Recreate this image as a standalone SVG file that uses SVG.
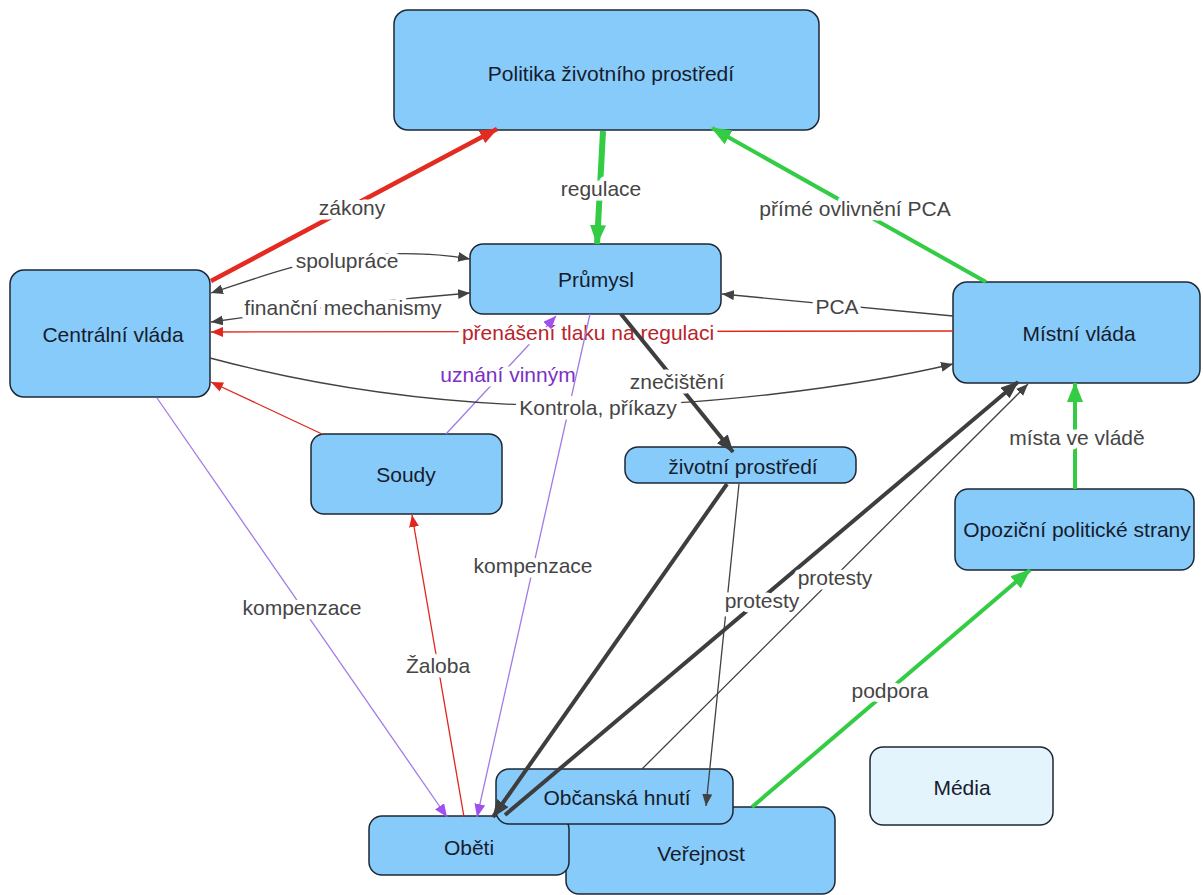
<svg xmlns="http://www.w3.org/2000/svg" width="1203" height="895" viewBox="0 0 1203 895">
<style>
.node rect{fill:#87cbfa;stroke:#1e2735;stroke-width:1.5}
.node.light rect{fill:#e4f4fd}
.node text{font-family:"Liberation Sans",Arial,sans-serif;font-size:21px;fill:#161c2c;text-anchor:middle;dominant-baseline:central}
.c{fill:none}
.lbl{font-family:"Liberation Sans",Arial,sans-serif;font-size:21px;fill:#454545;text-anchor:middle;dominant-baseline:central;stroke:#fff;stroke-width:9;stroke-linejoin:round;paint-order:stroke}
.dk{stroke:#424242;stroke-width:1.3}
.dkT{stroke:#3e3e3e;stroke-width:4}
.rd{stroke:#e0261d;stroke-width:1.3}
.rdT{stroke:#e32b22;stroke-width:4.5}
.gr{stroke:#33cc44;stroke-width:4}
.grT{stroke:#33cc44;stroke-width:6}
.pu{stroke:#a27ae6;stroke-width:1.3}
</style>
<defs>
<marker id="aDk" markerUnits="userSpaceOnUse" markerWidth="12" markerHeight="10" refX="12" refY="5" orient="auto-start-reverse"><path d="M0,0 L12,5 L0,10 z" fill="#424242"/></marker>
<marker id="aDkB" markerUnits="userSpaceOnUse" markerWidth="18" markerHeight="14" refX="17" refY="7" orient="auto"><path d="M0,0 L18,7 L0,14 z" fill="#3e3e3e"/></marker>
<marker id="aRd" markerUnits="userSpaceOnUse" markerWidth="12" markerHeight="10" refX="12" refY="5" orient="auto"><path d="M0,0 L12,5 L0,10 z" fill="#e0261d"/></marker>
<marker id="aRdB" markerUnits="userSpaceOnUse" markerWidth="18" markerHeight="14" refX="17" refY="7" orient="auto"><path d="M0,0 L18,7 L0,14 z" fill="#e32b22"/></marker>
<marker id="aGr" markerUnits="userSpaceOnUse" markerWidth="20" markerHeight="16" refX="19" refY="8" orient="auto"><path d="M0,0 L20,8 L0,16 z" fill="#33cc44"/></marker>
<marker id="aPu" markerUnits="userSpaceOnUse" markerWidth="13" markerHeight="11" refX="13" refY="5.5" orient="auto"><path d="M0,0 L13,5.5 L0,11 z" fill="#a24ff0"/></marker>
</defs>

<g id="nodes-under">
<g id="n-politika" class="node"><rect x="394" y="10" width="425" height="120" rx="14"/><text x="611" y="73">Politika životního prostředí</text></g>
<g id="n-prumysl" class="node"><rect x="470" y="244" width="251" height="70" rx="13"/><text x="596" y="279">Průmysl</text></g>
<g id="n-centralni" class="node"><rect x="10" y="270" width="200" height="127" rx="14"/><text x="113" y="334">Centrální vláda</text></g>
<g id="n-mistni" class="node"><rect x="953" y="282" width="247" height="101" rx="14"/><text x="1079" y="333">Místní vláda</text></g>
<g id="n-zivotni" class="node"><rect x="625" y="447" width="231" height="36" rx="13"/><text x="743" y="466">životní prostředí</text></g>
<g id="n-soudy" class="node"><rect x="311" y="434" width="191" height="80" rx="13"/><text x="406" y="474">Soudy</text></g>
<g id="n-opozicni" class="node"><rect x="955" y="489" width="239" height="81" rx="13"/><text x="1077" y="529">Opoziční politické strany</text></g>
<g id="n-media" class="node light"><rect x="870" y="747" width="183" height="78" rx="13"/><text x="962" y="787">Média</text></g>
<g id="n-verejnost" class="node"><rect x="566" y="807" width="269" height="87" rx="13"/><text x="701" y="853">Veřejnost</text></g>
<g id="n-obeti" class="node"><rect x="369" y="816" width="200" height="59" rx="13"/><text x="469" y="847">Oběti</text></g>
<g id="n-obcanska" class="node"><rect x="496" y="769" width="237" height="55" rx="13"/><text x="617" y="797">Občanská hnutí</text></g>
</g>

<g id="connectors">
<path class="c pu" d="M446,434 L550,322"/>
<path class="c rd" d="M953,331 L211,332" marker-end="url(#aRd)"/>
<text class="lbl" x="588" y="332" style="fill:#b8242a">přenášení tlaku na regulaci</text>
<path class="c pu" d="M546,327 L556,316" marker-end="url(#aPu)"/>
<text class="lbl" x="508" y="374" style="fill:#7b2fc4">uznání vinným</text>
<path class="c pu" d="M590,314 L477,817" marker-end="url(#aPu)"/>
<text class="lbl" x="533" y="565">kompenzace</text>
<path class="c dk" d="M210,358 C330,390 450,404 560,406 C700,408 860,386 953,364" marker-end="url(#aDk)"/>
<rect x="516" y="396" width="164" height="22" fill="#fff"/>
<text class="lbl" x="598" y="407">Kontrola, příkazy</text>
<path class="c dkT" d="M621,314 L733,452" marker-end="url(#aDkB)"/>
<text class="lbl" x="677" y="381">znečištění</text>

<path class="c rdT" d="M211,281 L497,129" marker-end="url(#aRdB)"/>
<text class="lbl" x="352" y="207">zákony</text>
<path class="c grT" d="M603,131 L597,244" marker-end="url(#aGr)"/>
<text class="lbl" x="601" y="188">regulace</text>
<path class="c gr" d="M986,282 L712,128" marker-end="url(#aGr)"/>
<text class="lbl" x="855" y="208">přímé ovlivnění PCA</text>

<path class="c dk" d="M211,293 C260,277 300,262 345,257 C390,252 430,252 470,259" marker-start="url(#aDk)" marker-end="url(#aDk)"/>
<text class="lbl" x="347" y="260">spolupráce</text>
<path class="c dk" d="M211,322 Q340,304 470,293" marker-start="url(#aDk)" marker-end="url(#aDk)"/>
<text class="lbl" x="343" y="307">finanční mechanismy</text>
<path class="c dk" d="M953,316 L722,294" marker-end="url(#aDk)"/>
<text class="lbl" x="837" y="306">PCA</text>

<path class="c rd" d="M322,434 L211,382" marker-end="url(#aRd)"/>
<path class="c rd" d="M464,817 L412,515" marker-end="url(#aRd)"/>
<text class="lbl" x="438" y="665">Žaloba</text>
<path class="c pu" d="M157,398 L447,817" marker-end="url(#aPu)"/>
<text class="lbl" x="302" y="607">kompenzace</text>

<path class="c dkT" d="M727,484 L493,817" marker-end="url(#aDkB)"/>
<path class="c dk" d="M739,484 L706,806" marker-end="url(#aDk)"/>
<path class="c dkT" d="M505,815 L1018,382" marker-end="url(#aDkB)"/>
<text class="lbl" x="762" y="600">protesty</text>
<path class="c dk" d="M642,769 L1028,384" marker-end="url(#aDk)"/>
<text class="lbl" x="835" y="577">protesty</text>

<path class="c gr" d="M752,807 L1030,570" marker-end="url(#aGr)"/>
<text class="lbl" x="890" y="690">podpora</text>
<path class="c gr" d="M1075,489 L1075,383" marker-end="url(#aGr)"/>
<text class="lbl" x="1077" y="437">místa ve vládě</text>
</g>
</svg>
